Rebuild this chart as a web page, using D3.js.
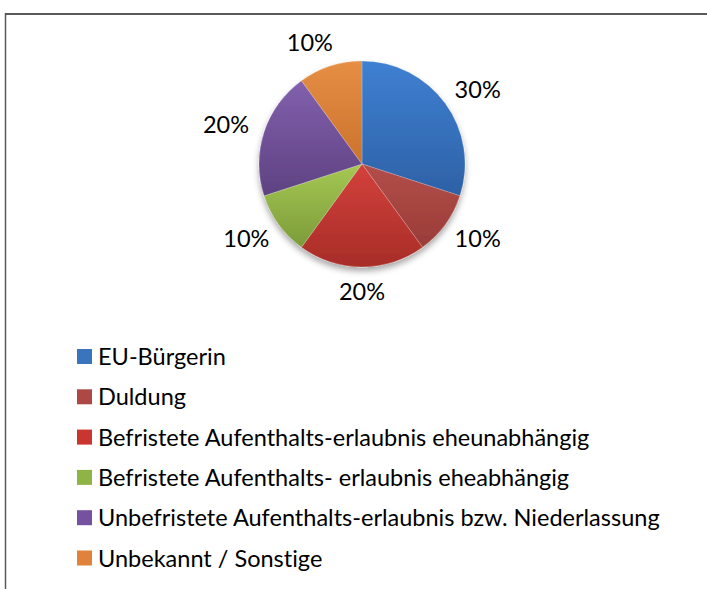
<!doctype html>
<html>
<head>
<meta charset="utf-8">
<style>
  body { margin: 0; background: #fff; }
  svg text { font-family: Lato, "Open Sans", sans-serif; fill: #000; font-variant-ligatures: none; }
</style>
<script src="https://d3js.org/d3.v7.min.js"></script>
</head>
<body>
<svg id="chart" width="707" height="589"></svg>
<script>
// data
var categories = [
  "EU-Bürgerin",
  "Duldung",
  "Befristete Aufenthalts-erlaubnis eheunabhängig",
  "Befristete Aufenthalts- erlaubnis eheabhängig",
  "Unbefristete Aufenthalts-erlaubnis bzw. Niederlassung",
  "Unbekannt / Sonstige"
];
var values = [30, 10, 20, 10, 20, 10];
var labels = ["30%", "10%", "20%", "10%", "20%", "10%"];

// slice colours: light (top) / dark (bottom), legend swatch
var lightCols = ["#3f80d2", "#b24e4a", "#d4413b", "#a6c853", "#8260ad", "#e68e44"];
var darkCols  = ["#2d61a6", "#9a3c38", "#a72d28", "#7b9b39", "#5e4282", "#cb722d"];
var swatchCols = ["#3a74bc", "#ad4845", "#c9362f", "#8fb446", "#7452a0", "#e0823b"];

var svg = d3.select("#chart"),
    cx = 362, cy = 164, radius = 103;

// frame (top and left edge only)
svg.append("line").attr("x1", 5).attr("y1", 14).attr("x2", 707).attr("y2", 14)
   .attr("stroke", "#595959").attr("stroke-width", 2);
svg.append("line").attr("x1", 5.5).attr("y1", 13).attr("x2", 5.5).attr("y2", 589)
   .attr("stroke", "#595959").attr("stroke-width", 1.5);

var defs = svg.append("defs");
categories.forEach(function(c, i) {
  var g = defs.append("linearGradient").attr("id", "grad" + i)
      .attr("x1", 0).attr("y1", 0).attr("x2", 0).attr("y2", 1);
  g.append("stop").attr("offset", "0%").attr("stop-color", lightCols[i]);
  g.append("stop").attr("offset", "100%").attr("stop-color", darkCols[i]);
});
var shadow = defs.append("filter").attr("id", "shadow")
    .attr("x", "-20%").attr("y", "-20%").attr("width", "140%").attr("height", "150%");
shadow.append("feDropShadow").attr("dx", 0).attr("dy", 4).attr("stdDeviation", 3)
      .attr("flood-color", "#000").attr("flood-opacity", 0.35);

var pie = d3.pie().sort(null).value(function(d) { return d; });
var arc = d3.arc().innerRadius(0).outerRadius(radius);
var arcs = pie(values);

var g = svg.append("g").attr("transform", "translate(" + cx + "," + cy + ")");
g.append("g").attr("filter", "url(#shadow)")
  .selectAll("path")
  .data(arcs)
  .enter().append("path")
  .attr("d", arc)
  .attr("fill", function(d, i) { return "url(#grad" + i + ")"; })
  .attr("stroke", "rgba(255,255,255,0.35)")
  .attr("stroke-width", 0.6);

// legend
var fontSize = 24;
var legend = svg.append("g");
var rows = legend.selectAll("g")
  .data(categories)
  .enter().append("g")
  .attr("transform", function(d, i) { return "translate(77," + (356.5 + i * 40.3) + ")"; });
rows.append("rect")
  .attr("x", 0).attr("y", -7.5).attr("width", 15).attr("height", 15)
  .attr("fill", function(d, i) { return swatchCols[i]; });
var legendText = rows.append("text")
  .attr("x", 21).attr("y", 8.5)
  .attr("font-size", fontSize + "px")
  .text(function(d) { return d; });

// fit the substitute font to the width of the longest line (98 -> 660)
var widest = d3.max(legendText.nodes(), function(n) { return n.getComputedTextLength(); });
fontSize = fontSize * 562 / widest;
legendText.attr("font-size", fontSize + "px");

// data labels outside the slices
var Rx = 122, Ry = 119, lw = 42, lh = 17;
var labelDx = [0, 0, 0, 0, 0, -8];
g.selectAll(".lbl")
  .data(arcs)
  .enter().append("text")
  .attr("class", "lbl")
  .attr("font-size", fontSize + "px")
  .attr("text-anchor", "middle")
  .attr("x", function(d, i) {
    var a = (d.startAngle + d.endAngle) / 2;
    return (Rx + lw / 2) * Math.sin(a) + labelDx[i];
  })
  .attr("y", function(d) {
    var a = (d.startAngle + d.endAngle) / 2;
    return -Ry * Math.cos(a) - lh / 2 * Math.cos(a) + lh / 2;
  })
  .text(function(d, i) { return labels[i]; });
</script>
</body>
</html>
